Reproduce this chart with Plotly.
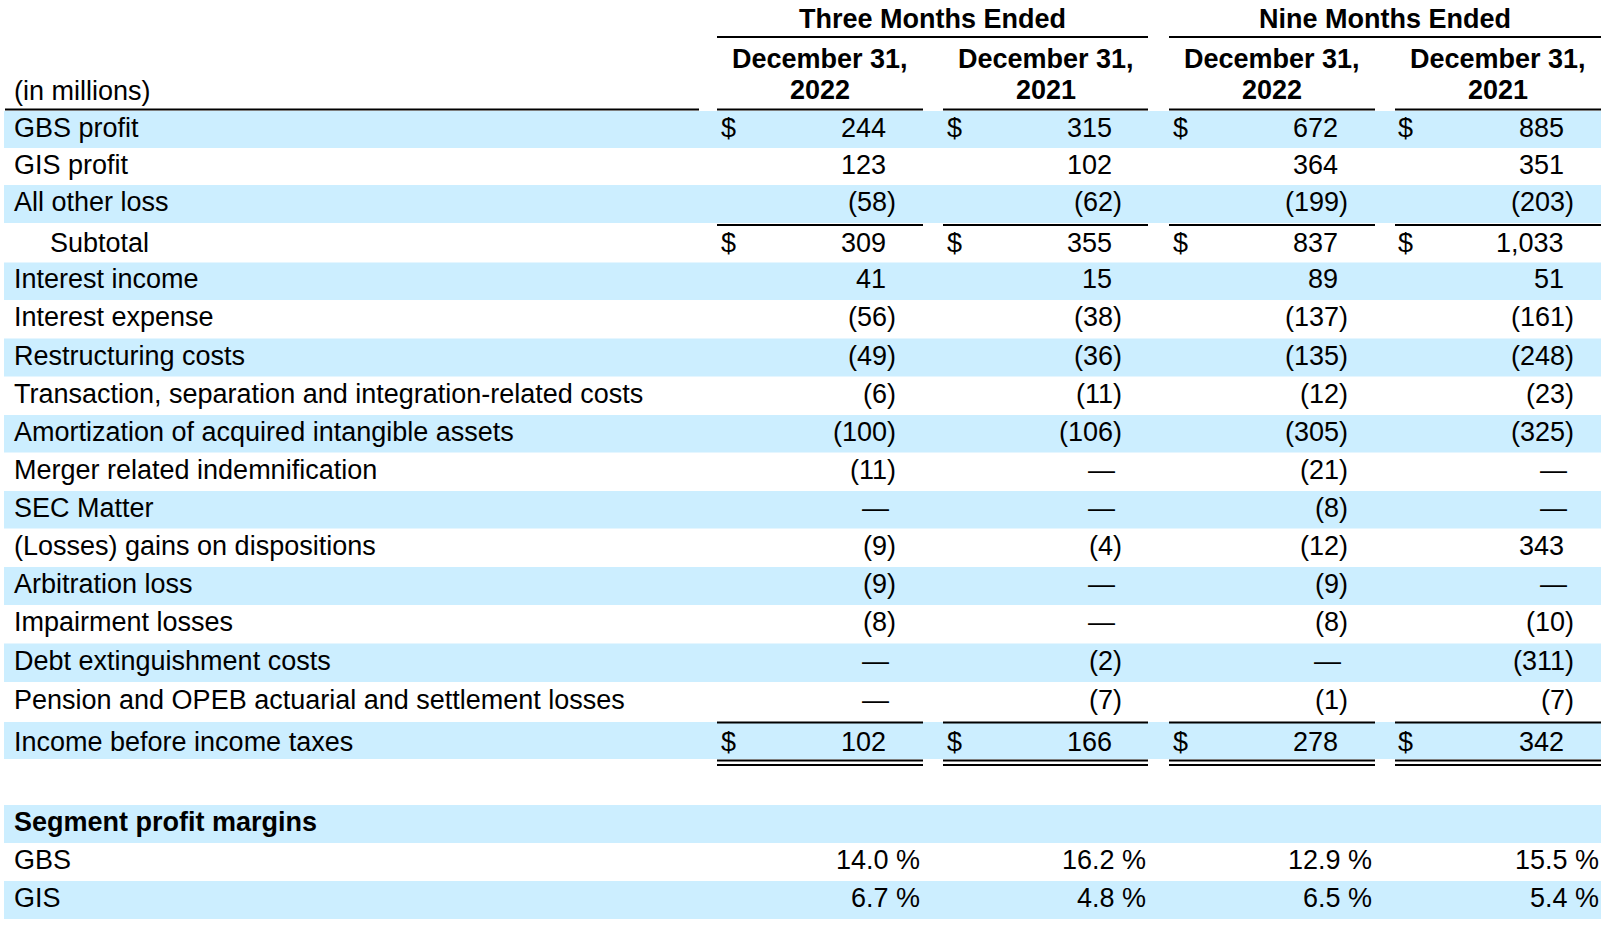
import plotly.graph_objects as go

# ---------------- data ----------------
row_labels = [
    "GBS profit", "GIS profit", "All other loss", "Subtotal", "Interest income",
    "Interest expense", "Restructuring costs",
    "Transaction, separation and integration-related costs",
    "Amortization of acquired intangible assets", "Merger related indemnification",
    "SEC Matter", "(Losses) gains on dispositions", "Arbitration loss",
    "Impairment losses", "Debt extinguishment costs",
    "Pension and OPEB actuarial and settlement losses", "Income before income taxes",
]
three_2022 = [244, 123, -58, 309, 41, -56, -49, -6, -100, -11, None, -9, -9, -8, None, None, 102]
three_2021 = [315, 102, -62, 355, 15, -38, -36, -11, -106, None, None, -4, None, None, -2, -7, 166]
nine_2022 = [672, 364, -199, 837, 89, -137, -135, -12, -305, -21, -8, -12, -9, -8, None, -1, 278]
nine_2021 = [885, 351, -203, 1033, 51, -161, -248, -23, -325, None, None, 343, None, -10, -311, -7, 342]
dollar_rows = ["GBS profit", "Subtotal", "Income before income taxes"]

margin_title = "Segment profit margins"
margin_labels = ["GBS", "GIS"]
margin_three_2022 = [14.0, 6.7]
margin_three_2021 = [16.2, 4.8]
margin_nine_2022 = [12.9, 6.5]
margin_nine_2021 = [15.5, 5.4]

group_headers = ["Three Months Ended", "Nine Months Ended"]
col_header_line1 = ["December 31,", "December 31,", "December 31,", "December 31,"]
col_header_line2 = ["2022", "2021", "2022", "2021"]
units_label = "(in millions)"

# ---------------- layout geometry ----------------
W, H = 1612, 934
FONT = "Liberation Sans, Arial, Helvetica, sans-serif"
FS = 27
BAND = "#CCEEFF"

row_tops = [111, 148, 185, 223, 262.5, 300, 338.5, 376.5, 415, 452.5, 491, 528.5,
            567, 605, 643.5, 682, 722]
row_bottom = 759
margin_tops = [805, 843, 881]
margin_bottom = 919

col_spans = [(717, 923), (943, 1148), (1169, 1375), (1395, 1601)]
dollar_x = [720, 946, 1172, 1397]
num_right = [887, 1113, 1339, 1565]
paren_right = [897, 1123, 1349, 1575]
pct_right = [921, 1147, 1373, 1600]

cols = [three_2022, three_2021, nine_2022, nine_2021]
mcols = [margin_three_2022, margin_three_2021, margin_nine_2022, margin_nine_2021]

shapes = []
annotations = []


def band(y0, y1):
    shapes.append(dict(type="rect", xref="x", yref="y", x0=4, x1=1601, y0=y0, y1=y1,
                       fillcolor=BAND, line=dict(width=0), layer="below"))


def hline(x0, x1, y, w=2):
    shapes.append(dict(type="line", xref="x", yref="y", x0=x0, x1=x1, y0=y, y1=y,
                       line=dict(color="black", width=w)))


def text(x, y, s, anchor="left", bold=False, size=FS):
    annotations.append(dict(xref="x", yref="y", x=x, y=y, text=(f"<b>{s}</b>" if bold else s),
                            showarrow=False, xanchor=anchor, yanchor="middle",
                            font=dict(family=FONT, size=size, color="black"),
                            borderpad=0))


def fmt(v):
    if v is None:
        return None
    if v < 0:
        return f"({-v:,})"
    return f"{v:,}"


# bands
all_rows = row_tops + [row_bottom]
for i in range(len(row_labels)):
    if i % 2 == 0:
        band(all_rows[i], all_rows[i + 1])
mrows = margin_tops + [margin_bottom]
for i in range(3):
    if i % 2 == 0:
        band(mrows[i], mrows[i + 1])

# header
text((col_spans[0][0] + col_spans[1][1]) / 2, 19, group_headers[0], "center", True)
text((col_spans[2][0] + col_spans[3][1]) / 2, 19, group_headers[1], "center", True)
hline(col_spans[0][0], col_spans[1][1], 37)
hline(col_spans[2][0], col_spans[3][1], 37)
for c in range(4):
    cx = (col_spans[c][0] + col_spans[c][1]) / 2
    text(cx, 59, col_header_line1[c], "center", True)
    text(cx, 89.5, col_header_line2[c], "center", True)
text(13, 91, units_label)
hline(5, 699, 109.5)
for c in range(4):
    hline(col_spans[c][0], col_spans[c][1], 109.5)

# rows
for i, lab in enumerate(row_labels):
    shift = -2
    if lab == "Subtotal":
        shift = 0
    elif lab == "Income before income taxes":
        shift = 1
    yc = (all_rows[i] + all_rows[i + 1]) / 2 + shift
    x = 49 if lab == "Subtotal" else 13
    text(x, yc, lab)
    for c in range(4):
        v = cols[c][i]
        if lab in dollar_rows:
            text(dollar_x[c], yc, "$")
        if v is None:
            text(num_right[c] + 3, yc, "\u2014", "right")
        elif v < 0:
            text(paren_right[c], yc, fmt(v), "right")
        else:
            text(num_right[c], yc, fmt(v), "right")

# rules around subtotal and total
for c in range(4):
    hline(col_spans[c][0], col_spans[c][1], 225)
    hline(col_spans[c][0], col_spans[c][1], 722.5)
    hline(col_spans[c][0], col_spans[c][1], 760.5)
    hline(col_spans[c][0], col_spans[c][1], 765)

# segment margins
text(13, (mrows[0] + mrows[1]) / 2 - 2, margin_title, bold=True)
for j, lab in enumerate(margin_labels):
    yc = (mrows[j + 1] + mrows[j + 2]) / 2 - 2
    text(13, yc, lab)
    for c in range(4):
        text(pct_right[c], yc, f"{mcols[c][j]:.1f} %", "right")

fig = go.Figure()
fig.add_trace(go.Scatter(x=[0, W], y=[0, H], mode="markers", marker=dict(opacity=0),
                         hoverinfo="skip", showlegend=False))
fig.update_layout(
    width=W, height=H, margin=dict(l=0, r=0, t=0, b=0),
    paper_bgcolor="white", plot_bgcolor="white",
    xaxis=dict(range=[0, W], visible=False, fixedrange=True),
    yaxis=dict(range=[H, 0], visible=False, fixedrange=True),
    shapes=shapes, annotations=annotations, showlegend=False,
)
fig.write_html("out.html", config={"displayModeBar": False},
               post_script="document.body.style.margin='0';document.body.style.overflow='hidden';")
